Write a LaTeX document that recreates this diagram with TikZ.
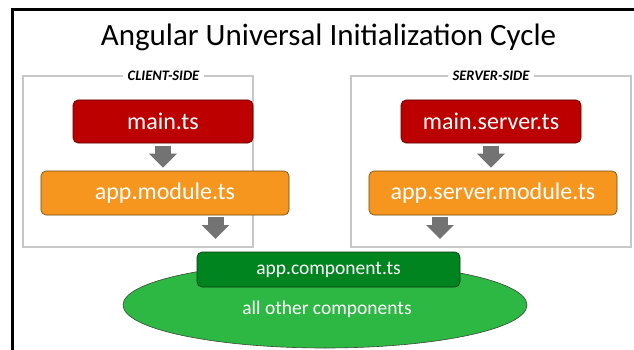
\documentclass[tikz,border=0pt]{standalone}
\usepackage{fontspec}
\setmainfont{Carlito}
\usetikzlibrary{arrows.meta,shapes.geometric}
\definecolor{cred}{HTML}{BC0000}
\definecolor{credb}{HTML}{5A0000}
\definecolor{corange}{HTML}{F6961F}
\definecolor{corangeb}{HTML}{6B4A10}
\definecolor{cdgreen}{HTML}{008420}
\definecolor{cdgreenb}{HTML}{0C3A12}
\definecolor{clgreen}{HTML}{2CB842}
\definecolor{cellb}{HTML}{3A4A3A}
\definecolor{carrow}{HTML}{737373}
\definecolor{cframe}{HTML}{C8C8C8}
\begin{document}
\begin{tikzpicture}[x=1pt,y=-1pt,
  fbox/.style={draw=#1, rounded corners=5pt, text=white, inner sep=0pt, line width=0.6pt},
  redbox/.style={fbox=credb, fill=cred, minimum width=180pt, minimum height=43pt, font=\fontsize{24}{24}\selectfont},
  orbox/.style={fbox=corangeb, fill=corange, minimum width=248pt, minimum height=44pt, font=\fontsize{24}{24}\selectfont},
  container/.style={draw=cframe, line width=1.2pt},
  sidelabel/.style={fill=white, inner xsep=5pt, inner ysep=1pt, font=\fontsize{14.5}{14.5}\selectfont\bfseries\itshape},
  flow/.style={draw=carrow, line width=16pt, -{Triangle[width=27pt,length=14pt]}}]
\useasboundingbox (0,0) rectangle (634,350);
\clip (0,0) rectangle (634,350);
\fill[white] (0,0) rectangle (634,350);
% outer frame
\draw[line width=3pt] (12,400) -- (12,10) -- (700,10);
% title
\node[anchor=base, font=\fontsize{31}{31}\selectfont] (title) at (328.5,46) {Angular Universal Initialization Cycle};
% containers
\node[container, minimum width=230pt, minimum height=171pt, inner sep=0pt] (client) at (138,161.5) {};
\node[container, minimum width=280pt, minimum height=171pt, inner sep=0pt] (server) at (491,161.5) {};
\node[sidelabel] (clientlbl) at (163.5,76) {CLIENT-SIDE};
\node[sidelabel] (serverlbl) at (491,76) {SERVER-SIDE};
% boxes
\node[redbox] (main) at (163,121.5) {main.ts};
\node[redbox] (mainsrv) at (491,121.5) {main.server.ts};
\node[orbox] (appmod) at (165,193) {app.module.ts};
\node[orbox] (appsrvmod) at (493,193) {app.server.module.ts};
% components
\node[ellipse, draw=cellb, fill=clgreen, line width=0.6pt, minimum width=404pt, minimum height=86pt, inner sep=0pt] (others) at (325,305) {};
\node[text=white, inner sep=0pt, font=\fontsize{19.5}{19.5}\selectfont] (otherslbl) at (327,309) {all other components};
\node[fbox=cdgreenb, fill=cdgreen, minimum width=263pt, minimum height=35pt, font=\fontsize{19.5}{19.5}\selectfont] (appcomp) at (328.5,269.5) {app.component.ts};
% arrows
\coordinate (cend) at (215.5,239);
\coordinate (send) at (440,239);
\draw[flow] ([yshift=-3pt]main.south) -- ([yshift=3pt]main.south |- appmod.north);
\draw[flow] ([yshift=-3pt]mainsrv.south) -- ([yshift=3pt]mainsrv.south |- appsrvmod.north);
\draw[flow] ([yshift=-2pt]appmod.south -| cend) -- (cend);
\draw[flow] ([yshift=-2pt]appsrvmod.south -| send) -- (send);
\end{tikzpicture}
\end{document}
